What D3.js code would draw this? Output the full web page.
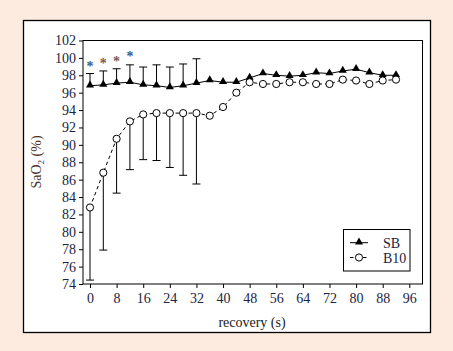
<!DOCTYPE html>
<html><head><meta charset="utf-8">
<script src="https://cdn.jsdelivr.net/npm/d3@7"></script>
<style>
html,body{margin:0;padding:0;background:#fdebe0;}
svg{display:block;}
</style></head>
<body>
<svg id="chart" width="453" height="351"></svg>
<script>
const times = [0,4,8,12,16,20,24,28,32,36,40,44,48,52,56,60,64,68,72,76,80,84,88,92];
const sbValues = [96.8,96.9,97.1,97.2,96.9,96.8,96.6,96.8,97.1,97.4,97.2,97.2,97.7,98.2,98.0,97.9,98.0,98.3,98.2,98.5,98.7,98.3,98.0,98.0];
const b10Values = [82.8,86.8,90.7,92.7,93.5,93.65,93.65,93.65,93.65,93.35,94.35,96.0,97.2,97.0,97.0,97.2,97.2,97.0,97.0,97.5,97.4,97.0,97.4,97.5];
const sbUpper = [98.2,98.5,98.75,99.2,98.95,99.2,98.95,99.3,99.9];
const b10Lower = [74.45,77.9,84.45,87.15,88.3,88.2,87.4,86.5,85.5];
const asteriskTimes = [0,4,8,12];
const asteriskValues = [99.3,99.6,99.9,100.5];
const xTicks = [0,8,16,24,32,40,48,56,64,72,80,88,96];
const yTicks = [74,76,78,80,82,84,86,88,90,92,94,96,98,100,102];
const seriesNames = ["SB","B10"];

const svg = d3.select("#chart");
const font = "'Liberation Serif','Times New Roman',serif";

svg.append("rect").attr("x",23.5).attr("y",20.5).attr("width",407).attr("height",312)
  .attr("fill","#fff").attr("stroke","#000").attr("stroke-width",1.3);

const L=83, R=422.5, T=40.5, B=284;
const x = d3.scaleLinear().domain([0,96]).range([90,409.3]);
const y = d3.scaleLinear().domain([74,102]).range([B,T]);

svg.append("rect").attr("x",L).attr("y",T).attr("width",R-L).attr("height",B-T)
  .attr("fill","none").attr("stroke","#000").attr("stroke-width",1);

const yAxis = d3.axisLeft(y).tickValues(yTicks).tickSize(4).tickPadding(3).tickFormat(d3.format("d"));
const gy = svg.append("g").attr("transform",`translate(${L},0)`).call(yAxis);
gy.select(".domain").remove();
gy.selectAll("line").attr("stroke","#000");
gy.selectAll("text").attr("font-family",font).attr("font-size",14).attr("fill","#1c2442");

const xAxis = d3.axisBottom(x).tickValues(xTicks).tickSize(4).tickPadding(5).tickFormat(d3.format("d"));
const gx = svg.append("g").attr("transform",`translate(0,${B})`).call(xAxis);
gx.select(".domain").remove();
gx.selectAll("line").attr("stroke","#000");
gx.selectAll("text").attr("font-family",font).attr("font-size",14).attr("fill","#1c2442");

svg.append("text").attr("x",252).attr("y",327).attr("text-anchor","middle")
  .attr("font-family",font).attr("font-size",14).attr("fill","#1a1a1a").text("recovery (s)");
const yt = svg.append("text").attr("transform","translate(41,162) rotate(-90)").attr("text-anchor","middle")
  .attr("font-family",font).attr("font-size",14).attr("fill","#4a3428");
yt.append("tspan").text("SaO");
yt.append("tspan").attr("font-size",9).attr("dy",3).text("2");
yt.append("tspan").attr("dy",-3).text(" (%)");

const cap = 4;
sbUpper.forEach((v,i)=>{
  const cx = x(times[i]);
  svg.append("line").attr("x1",cx).attr("x2",cx).attr("y1",y(sbValues[i])).attr("y2",y(v)).attr("stroke","#000");
  svg.append("line").attr("x1",cx-cap).attr("x2",cx+cap).attr("y1",y(v)).attr("y2",y(v)).attr("stroke","#000");
});
b10Lower.forEach((v,i)=>{
  const cx = x(times[i]);
  svg.append("line").attr("x1",cx).attr("x2",cx).attr("y1",y(b10Values[i])).attr("y2",y(v)).attr("stroke","#000");
  svg.append("line").attr("x1",cx-cap).attr("x2",cx+cap).attr("y1",y(v)).attr("y2",y(v)).attr("stroke","#000");
});

const line = d3.line().x(d=>x(d[0])).y(d=>y(d[1]));
svg.append("path").datum(times.map((t,i)=>[t,sbValues[i]])).attr("d",line)
  .attr("fill","none").attr("stroke","#000").attr("stroke-width",1);
svg.append("path").datum(times.map((t,i)=>[t,b10Values[i]])).attr("d",line)
  .attr("fill","none").attr("stroke","#000").attr("stroke-width",1).attr("stroke-dasharray","3.5,3");

const tri = d3.symbol().type(d3.symbolTriangle).size(28);
svg.selectAll(".sb").data(times).enter().append("path")
  .attr("d",tri).attr("transform",(d,i)=>`translate(${x(d)},${y(sbValues[i])-0.5})`).attr("fill","#000");
svg.selectAll(".b10").data(times).enter().append("circle")
  .attr("cx",d=>x(d)).attr("cy",(d,i)=>y(b10Values[i])).attr("r",3.6)
  .attr("fill","#fff").attr("stroke","#000").attr("stroke-width",1);

svg.selectAll(".ast").data(asteriskTimes).enter().append("text")
  .attr("x",d=>x(d)).attr("y",(d,i)=>y(asteriskValues[i])+7).attr("text-anchor","middle")
  .attr("font-family",font).attr("font-size",14).attr("font-weight","bold")
  .attr("fill",(d,i)=> i%3===0 ? "#3a5a90" : "#7a5a50").text("*");

svg.append("rect").attr("x",343.5).attr("y",229.5).attr("width",66.5).attr("height",41.5)
  .attr("fill","#fff").attr("stroke","#000").attr("stroke-width",1);
const ly = [242.7,257.5];
svg.append("line").attr("x1",350).attr("x2",368).attr("y1",ly[0]).attr("y2",ly[0]).attr("stroke","#000");
svg.append("path").attr("d",tri).attr("transform",`translate(359,${ly[0]-0.5})`).attr("fill","#000");
svg.append("line").attr("x1",350).attr("x2",368).attr("y1",ly[1]).attr("y2",ly[1]).attr("stroke","#000").attr("stroke-dasharray","3.5,3");
svg.append("circle").attr("cx",359).attr("cy",ly[1]).attr("r",3.6).attr("fill","#fff").attr("stroke","#000");
seriesNames.forEach((n,i)=>{
  svg.append("text").attr("x",383).attr("y",ly[i]+5).attr("font-family",font).attr("font-size",14)
    .attr("fill","#1c2442").text(n);
});
</script>
</body></html>
